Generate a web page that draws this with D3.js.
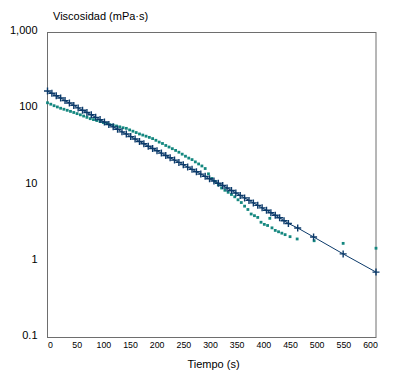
<!DOCTYPE html>
<html>
<head>
<meta charset="utf-8">
<script src="https://cdn.jsdelivr.net/npm/d3@7"></script>
<style>
  body { margin: 0; background: #fff; }
  text { font-family: "Liberation Sans", Arial, sans-serif; }
</style>
</head>
<body>
<div id="chart"></div>
<script>
//Tick labels
const xTicks = [0, 50, 100, 150, 200, 250, 300, 350, 400, 450, 500, 550, 600];
const yTicks = [0.1, 1, 10, 100, 1000];
const yTickLabels = ["0.1", "1", "10", "100", "1,000"];

//Series 1 (dark, crosses joined by a line)
const darkTime = [0, 8, 16, 24, 32, 40, 48, 56, 64, 72, 80, 88, 96, 104, 112, 120, 128, 136, 144, 152,
  160, 168, 176, 184, 192, 200, 208, 216, 224, 232, 240, 248, 256, 264, 272, 280, 288, 296, 304, 312,
  320, 328, 336, 344, 352, 360, 368, 376, 384, 392, 400, 408, 416, 424, 432, 440, 457, 486, 540, 600];
const darkVisc = [168, 157, 146, 136, 126, 117, 109, 101, 94, 88, 82, 76, 71, 66, 61, 57, 53, 49, 46, 42.5,
  39.5, 36.7, 34.2, 31.8, 29.7, 27.7, 25.8, 24.0, 22.4, 20.9, 19.5, 18.2, 16.9, 15.8, 14.7, 13.7, 12.8, 11.9, 11.1, 10.4,
  9.7, 9.0, 8.35, 7.75, 7.2, 6.67, 6.19, 5.74, 5.33, 4.94, 4.59, 4.26, 3.95, 3.66, 3.35, 3.08, 2.69, 2.05, 1.23, 0.71];

//Series 2 (teal, square dots only)
const tealTime = [0, 6, 12, 18, 24, 30, 36, 42, 48, 54, 60, 66, 72, 78, 84, 90, 96, 102, 108, 114,
  120, 126, 132, 138, 144, 150, 156, 162, 168, 174, 180, 186, 192, 198, 204, 210, 216, 222, 228, 234,
  240, 246, 252, 258, 264, 270, 276, 282, 288, 294, 300, 306, 312, 318, 324, 330, 336, 342, 348, 354,
  360, 366, 372, 378, 384, 390, 396, 402, 406, 410, 416, 422, 428, 434, 443, 456, 487, 540, 600];
const tealVisc = [118, 113, 108, 104, 100, 97, 94, 91, 88, 85, 82, 79, 76, 73, 71, 69, 67, 65, 63, 61,
  60, 58.5, 57, 55.5, 54.5, 52, 50, 48, 46, 44.5, 43, 41.5, 40, 38, 36, 34.5, 32.5, 31, 29.5, 28,
  26.5, 25, 23.5, 22.2, 21.2, 19.8, 18.6, 17.5, 16.2, 13.8, 12.0, 11.0, 9.9, 9.0, 8.4, 7.9, 7.4, 6.9, 6.3, 5.8,
  5.2, 4.7, 4.1, 3.9, 3.7, 3.2, 3.0, 2.9, 3.6, 2.7, 2.5, 2.4, 2.3, 2.2, 2.07, 1.93, 1.83, 1.69, 1.46];

//Define chart dimensions
const width = 398;
const height = 378;
const plot = { left: 47.5, top: 32, right: 376, bottom: 337 };
const darkColor = "#0b3a6a";
const tealColor = "#14877f";

const svg = d3.select("#chart")
  .append("svg")
  .attr("width", width)
  .attr("height", height);

//Scales: data scale spans the frame, label scale follows the printed ticks
const x = d3.scaleLinear().domain([0, 600]).range([plot.left, plot.right]);
const xLabel = d3.scaleLinear().domain([0, 600]).range([50, 370]);
const y = d3.scaleLog().domain([0.1, 1000]).range([plot.bottom, plot.top]);

//Frame
svg.append("rect")
  .attr("x", plot.left)
  .attr("y", plot.top + 0.5)
  .attr("width", plot.right - plot.left)
  .attr("height", plot.bottom - plot.top)
  .attr("fill", "none")
  .attr("stroke", "#6e6e6e")
  .attr("stroke-width", 1);

//X-Axis
const xAxis = svg.append("g")
  .attr("transform", `translate(0, ${plot.bottom})`)
  .call(d3.axisBottom(xLabel).tickValues(xTicks).tickSize(0).tickPadding(5).tickFormat(d3.format("d")));
xAxis.select(".domain").remove();
xAxis.selectAll("text")
  .style("font-size", "8.8px")
  .attr("fill", "#000");

//Y-Axis
const yAxis = svg.append("g")
  .attr("transform", `translate(${plot.left}, 0)`)
  .call(d3.axisLeft(y).tickValues(yTicks).tickSize(0).tickPadding(10)
    .tickFormat((d, i) => yTickLabels[i]));
yAxis.select(".domain").remove();
yAxis.selectAll("text")
  .style("font-size", "11px")
  .attr("y", -2)
  .attr("fill", "#000");

//Axis titles
svg.append("text")
  .attr("x", 53)
  .attr("y", 20)
  .style("font-size", "11px")
  .text("Viscosidad (mPa·s)");
svg.append("text")
  .attr("x", 213.5)
  .attr("y", 368)
  .style("text-anchor", "middle")
  .style("font-size", "11px")
  .text("Tiempo (s)");

const dark = darkTime.map((t, i) => ({ t, v: darkVisc[i] }));
const teal = tealTime.map((t, i) => ({ t, v: tealVisc[i] }));

//Teal dots
svg.selectAll(".teal")
  .data(teal)
  .join("rect")
  .attr("class", "teal")
  .attr("x", d => x(d.t) - 1.4)
  .attr("y", d => y(d.v) - 1.4)
  .attr("width", 2.8)
  .attr("height", 2.8)
  .attr("fill", tealColor);

//Dark line
const line = d3.line()
  .x(d => x(d.t))
  .y(d => y(d.v));
svg.append("path")
  .datum(dark)
  .attr("fill", "none")
  .attr("stroke", darkColor)
  .attr("stroke-width", 1)
  .attr("d", line);

//Dark crosses
svg.selectAll(".cross")
  .data(dark)
  .join("path")
  .attr("class", "cross")
  .attr("d", d => {
    const cx = x(d.t), cy = y(d.v), s = 3.5;
    return `M${cx - s},${cy}H${cx + s}M${cx},${cy - s}V${cy + s}`;
  })
  .attr("stroke", darkColor)
  .attr("stroke-width", 1.4)
  .attr("fill", "none");
</script>
</body>
</html>
